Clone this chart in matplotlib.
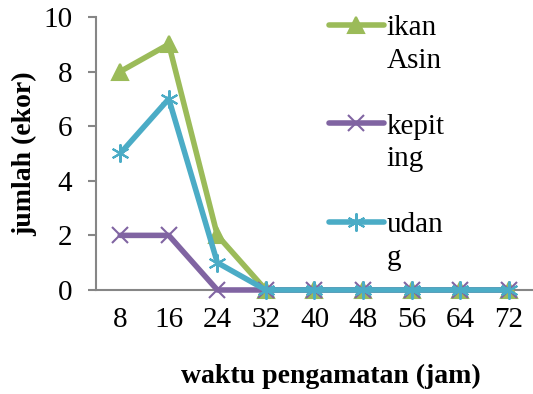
"""Line chart of catch counts per observation time."""

import matplotlib

matplotlib.use("Agg")

from matplotlib import pyplot as plt
from matplotlib.lines import Line2D

waktu = ["8", "16", "24", "32", "40", "48", "56", "64", "72"]
ikan_asin = [8, 9, 2, 0, 0, 0, 0, 0, 0]
kepiting = [2, 2, 0, 0, 0, 0, 0, 0, 0]
udang = [5, 7, 1, 0, 0, 0, 0, 0, 0]

AXIS_GREY = "#868686"
FONT = "Liberation Serif"

plt.rcParams["font.family"] = FONT
plt.rcParams["font.size"] = 21

fig = plt.figure(figsize=(5.33, 3.94), dpi=100)
ax = fig.add_axes([0.180, 0.264, 0.82, 0.693])

x = list(range(len(waktu)))
series = [
    ("ikan", "Asin", ikan_asin, "#9BBB59", "^", 12),
    ("kepit", "ing", kepiting, "#8064A2", "x", 12),
    ("udan", "g", udang, "#4BACC6", (6, 2, 0), 13),
]

handles = []
labels = []
blank = Line2D([], [], linestyle="none")
for i, (first, second, values, color, marker, size) in enumerate(series):
    (line,) = ax.plot(
        x, values, color=color, linewidth=4, marker=marker,
        markersize=size, markeredgewidth=1.5, markeredgecolor=color,
        solid_capstyle="round", clip_on=False, zorder=3 + i,
    )
    handles += [line, blank]
    labels += [first, second]
    if i < len(series) - 1:
        handles.append(blank)
        labels.append("")

ax.set_xlim(-0.5, len(waktu) - 0.5)
ax.set_ylim(0, 10)
ax.set_xticks(x)
ax.set_xticklabels(waktu)
ax.set_yticks(range(0, 11, 2))

for side in ("top", "right"):
    ax.spines[side].set_visible(False)
for side in ("left", "bottom"):
    ax.spines[side].set_color(AXIS_GREY)
    ax.spines[side].set_linewidth(1.5)
ax.tick_params(axis="x", length=0, pad=12)
ax.tick_params(axis="y", length=6, width=1.5, color=AXIS_GREY, pad=11)

ax.set_xlabel("waktu pengamatan (jam)", fontweight="bold", fontsize=20, va="top")
ax.xaxis.set_label_coords(0.538, -0.272)
ax.set_ylabel("jumlah (ekor)", fontweight="bold", fontsize=20, labelpad=4)

fig.legend(
    handles, labels,
    loc="upper left", bbox_to_anchor=(0.589, 1.0),
    frameon=False, handlelength=1.9, handletextpad=0.1,
    labelspacing=0.22, borderpad=0.0,
)

fig.savefig("out.png", dpi=100)
